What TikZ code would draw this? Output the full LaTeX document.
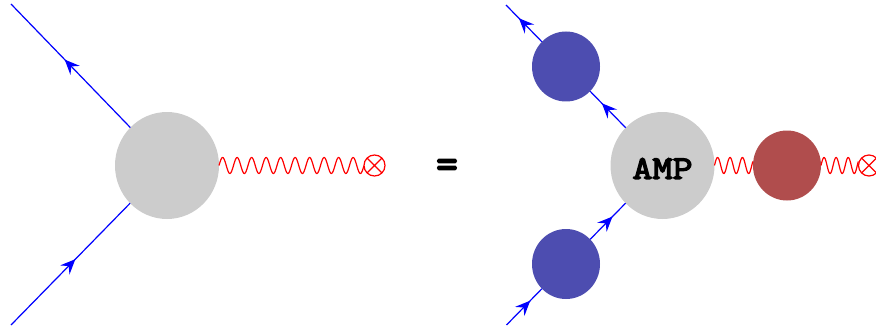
\documentclass[tikz,border=0pt]{standalone}
\usepackage{fontspec}
\newfontfamily\heavymono[FakeBold=4.2,FakeStretch=1.18]{Latin Modern Mono}
\newfontfamily\heaviermono[FakeBold=4,FakeStretch=0.9]{Latin Modern Mono}
\usetikzlibrary{arrows.meta,shapes.geometric,decorations.markings,calc}
\definecolor{blobgrey}{HTML}{CCCCCC}
\definecolor{blobblue}{HTML}{4D4DB0}
\definecolor{blobred}{HTML}{B04D4D}
\tikzset{
  x=1pt,y=-1pt,
  blob/.style={ellipse,inner sep=0pt,outer sep=0pt,minimum width=#1,fill=blobgrey},
  bigblob/.style={blob=104pt,minimum height=107pt,fill=blobgrey},
  blueblob/.style={blob=68pt,minimum height=70pt,fill=blobblue},
  redblob/.style={blob=68pt,minimum height=70pt,fill=blobred},
  fermion/.style={draw=blue,line width=1.2pt,postaction={decorate},decoration={markings,mark=at position #1 with {\arrow[blue]{Stealth[length=15pt,width=13pt,inset=5.5pt]}}}},
  photon/.style={draw=red,line width=1.2pt},
  insertion/.style={circle,draw=red,line width=1.2pt,minimum size=21pt,inner sep=0pt,outer sep=0pt},
  amptext/.style={font=\fontsize{33}{33}\heavymono,inner sep=0pt},
  eqtext/.style={font=\fontsize{46}{46}\heaviermono,inner sep=0pt},
}
\newcommand{\wavyline}[3]{%
  \draw[photon] let \p1=(#1),\p2=(#2) in
    plot[variable=\t,domain=0:1,samples=#3*24,smooth]
    ({\x1+\t*(\x2-\x1)},{\y1+8pt*sin(\t*#3*360)});}
\begin{document}
\begin{tikzpicture}
\useasboundingbox (0,0) rectangle (876,329);
\node[bigblob] (L) at (167,165.5) {};
\coordinate (LT) at (11,4);
\coordinate (LB) at (11,325);
\node[insertion] (LX) at (374.5,165.5) {};
\draw[red,line width=1.2pt] (LX.north west) -- (LX.south east) (LX.north east) -- (LX.south west);
\path[fermion=.55] (L) -- (LT);
\path[fermion=.54] (LB) -- (L);
\wavyline{L.east}{LX.west}{10}
\node[eqtext] (EQ) at (447,169) {=};
\node[bigblob] (A) at (662.5,165.5) {};
\node[amptext] (AMP) at (662.5,168.5) {AMP};
\node[blueblob] (B1) at (566,66.5) {};
\node[blueblob] (B2) at (566,264) {};
\node[redblob] (R) at (787,165.5) {};
\coordinate (RT) at (506,5);
\coordinate (RB) at (506.5,325);
\node[insertion] (RX) at (869,165.5) {};
\draw[red,line width=1.2pt] (RX.north west) -- (RX.south east) (RX.north east) -- (RX.south west);
\path[fermion=.67] (A) -- (B1);
\path[fermion=.64] (B1) -- (RT);
\path[fermion=.67] (RB) -- (B2);
\path[fermion=.63] (B2) -- (A);
\wavyline{A.east}{R.west}{3.1}
\wavyline{R.east}{RX.west}{3.1}
\end{tikzpicture}
\end{document}
